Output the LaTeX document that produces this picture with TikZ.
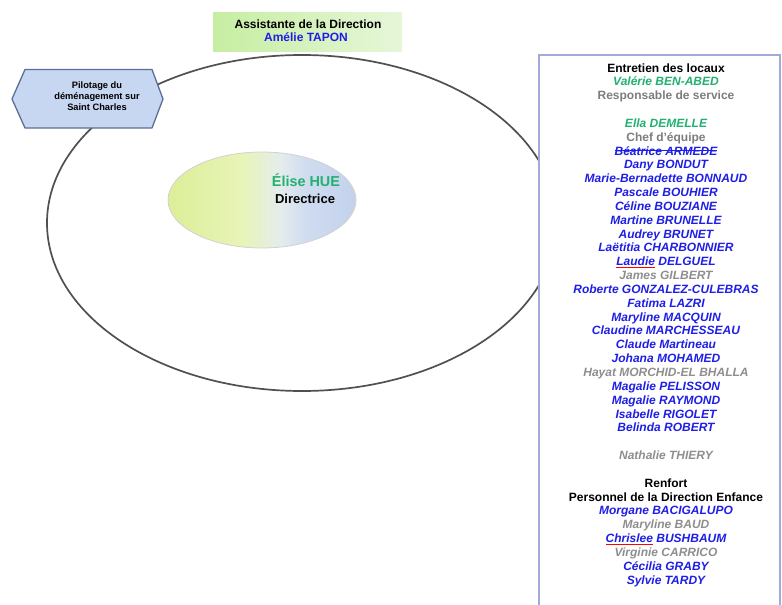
\documentclass[tikz,border=0pt]{standalone}
\usepackage{fontspec}
\setmainfont{Liberation Sans}
\usetikzlibrary{shapes.geometric}

\definecolor{nameblue}{HTML}{1E1EE6}
\definecolor{namegreen}{HTML}{22B070}
\definecolor{rolegray}{HTML}{7D7D7D}
\definecolor{offgray}{HTML}{8E8E8E}
\definecolor{framelav}{HTML}{A3AADA}
\definecolor{hexfill}{HTML}{C7D6F1}
\definecolor{hexline}{HTML}{5C6E98}
\definecolor{ringline}{HTML}{505050}
\definecolor{assistL}{HTML}{C6EEA2}
\definecolor{assistR}{HTML}{E6F6D8}
\definecolor{ellL}{HTML}{DCEF98}
\definecolor{ellM}{HTML}{E8F4B8}
\definecolor{ellW}{HTML}{E4ECEC}
\definecolor{ellB}{HTML}{CFDBEF}
\definecolor{ellR}{HTML}{C3D2EC}

% left-to-right fill of the director ellipse (25bp..75bp span the shape)
\pgfdeclarehorizontalshading{directionfill}{100bp}{%
  color(0bp)=(ellL); color(25bp)=(ellL); color(45bp)=(ellM);
  color(55bp)=(ellW); color(62bp)=(ellB); color(75bp)=(ellR);
  color(100bp)=(ellR)}

\newsavebox\markbox
% struck-through text in the current colour
\newcommand\struck[1]{\sbox\markbox{#1}\rlap{\usebox\markbox}\rule[3.7pt]{\wd\markbox}{0.9pt}}
% red spell-check line under a word
\newcommand\spellmark[1]{\sbox\markbox{#1}\rlap{\usebox\markbox}\textcolor{red}{\rule[-2.4pt]{\wd\markbox}{0.8pt}}}

\begin{document}
\begin{tikzpicture}[x=1pt,y=-1pt,
  every node/.style={inner sep=0pt, anchor=base},
  listfont/.style={font=\fontsize{12}{14}\selectfont\bfseries},
  listfontit/.style={font=\fontsize{12}{14}\selectfont\bfseries\itshape},
  hdr/.style={listfont, text=black},
  role/.style={listfont, text=rolegray},
  grn/.style={listfontit, text=namegreen},
  mem/.style={listfontit, text=nameblue},
  off/.style={listfontit, text=offgray},
  hexfont/.style={font=\fontsize{9.3}{11}\selectfont\bfseries, text=black}]

\useasboundingbox (0,0) rectangle (782,605);

% large service ellipse
\node[ellipse, anchor=center, draw=ringline, line width=1.7pt,
      minimum width=510pt, minimum height=336pt] (service) at (302,223) {};

% director ellipse
\node[ellipse, anchor=center, shading=directionfill, draw=black!18, line width=0.8pt,
      minimum width=188pt, minimum height=96pt] (director) at (262,200) {};
\node[font=\fontsize{14.4}{16}\selectfont\bfseries, text=namegreen] (dirname) at (306,186) {Élise HUE};
\node[font=\fontsize{13}{15}\selectfont\bfseries, text=black] (dirrole) at (305,203) {Directrice};

% assistant box
\node[anchor=center, left color=assistL, right color=assistR,
      minimum width=189pt, minimum height=39pt] (assist) at (307.5,31.5) {};
\node[font=\fontsize{12}{14}\selectfont\bfseries, text=black] (assistrole) at (308,28) {Assistante de la Direction};
\node[font=\fontsize{12}{14}\selectfont\bfseries, text=nameblue] (assistname) at (306,41) {Amélie TAPON};

% relocation project hexagon
\filldraw[fill=hexfill, draw=hexline, line width=1.3pt, line join=round]
  (12,99) -- (25,69.5) -- (152,69.5) -- (163,99) -- (152,128) -- (25,128) -- cycle;
\node[hexfont] (pilot1) at (97,88) {Pilotage du};
\node[hexfont] (pilot2) at (97,99) {déménagement sur};
\node[hexfont] (pilot3) at (97,110) {Saint Charles};

% cleaning staff panel
\filldraw[fill=white, draw=framelav, line width=1.6pt] (539,55) rectangle (780,612);
\foreach \i/\st/\tx in {
  0/hdr/Entretien des locaux,
  1/grn/Valérie BEN-ABED,
  2/role/Responsable de service,
  4/grn/Ella DEMELLE,
  5/role/Chef d'équipe,
  6/mem/\struck{Béatrice ARMEDE},
  7/mem/Dany BONDUT,
  8/mem/Marie-Bernadette BONNAUD,
  9/mem/Pascale BOUHIER,
  10/mem/Céline BOUZIANE,
  11/mem/Martine BRUNELLE,
  12/mem/Audrey BRUNET,
  13/mem/Laëtitia CHARBONNIER,
  14/mem/\spellmark{Laudie} DELGUEL,
  15/off/James GILBERT,
  16/mem/Roberte GONZALEZ-CULEBRAS,
  17/mem/Fatima LAZRI,
  18/mem/Maryline MACQUIN,
  19/mem/Claudine MARCHESSEAU,
  20/mem/Claude Martineau,
  21/mem/Johana MOHAMED,
  22/off/Hayat MORCHID-EL BHALLA,
  23/mem/Magalie PELISSON,
  24/mem/Magalie RAYMOND,
  25/mem/Isabelle RIGOLET,
  26/mem/Belinda ROBERT,
  28/off/Nathalie THIERY,
  30/hdr/Renfort,
  31/hdr/Personnel de la Direction Enfance,
  32/mem/Morgane BACIGALUPO,
  33/off/Maryline BAUD,
  34/mem/\spellmark{Chrislee} BUSHBAUM,
  35/off/Virginie CARRICO,
  36/mem/Cécilia GRABY,
  37/mem/Sylvie TARDY}
  \node[\st] (line\i) at (666,{72+13.84*\i}) {\tx};

\end{tikzpicture}
\end{document}
